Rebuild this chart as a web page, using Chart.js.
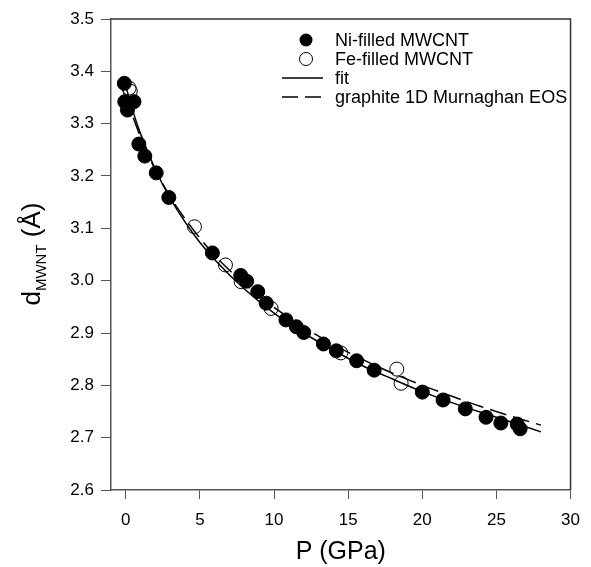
<!DOCTYPE html>
<html>
<head>
<meta charset="utf-8">
<script src="https://cdn.jsdelivr.net/npm/chart.js@4.4.1/dist/chart.umd.min.js"></script>
<style>
  html, body { margin: 0; padding: 0; background: #fff; }
  #wrap { width: 591px; height: 567px; position: relative; }
</style>
</head>
<body>
<div id="wrap"><canvas id="c" width="591" height="567"></canvas></div>
<script>
// ---- data ----
const niP = [-0.1, -0.07, 0.55, 0.11, 0.88, 1.28, 2.05, 2.9, 5.84, 7.75, 8.15, 8.9, 9.47, 10.8, 11.5, 12.0, 13.33, 14.2, 15.57, 16.75, 20.0, 21.4, 22.9, 24.3, 25.3, 26.4, 26.6];
const niD = [3.377, 3.342, 3.342, 3.326, 3.261, 3.238, 3.206, 3.159, 3.053, 3.010, 2.999, 2.979, 2.957, 2.925, 2.912, 2.901, 2.879, 2.866, 2.847, 2.829, 2.787, 2.772, 2.755, 2.739, 2.728, 2.726, 2.717];
const feP = [0.22, 0.3, 4.63, 6.72, 7.78, 9.8, 14.5, 18.28, 18.57];
const feD = [3.368, 3.362, 3.103, 3.030, 2.998, 2.947, 2.862, 2.831, 2.804];
const fitP = [0, 0.5, 1, 2, 3, 4, 5, 6, 8, 10, 12, 14, 16, 18, 20, 22, 24, 26, 28];
const fitD = [3.372, 3.322, 3.280, 3.212, 3.157, 3.112, 3.073, 3.040, 2.984, 2.938, 2.900, 2.867, 2.837, 2.812, 2.788, 2.767, 2.748, 2.730, 2.711];
const eosP = [0, 0.5, 1, 2, 3, 4, 5, 6, 8, 10, 12, 14, 16, 18, 20, 22, 24, 26, 28];
const eosD = [3.355, 3.312, 3.274, 3.211, 3.160, 3.118, 3.081, 3.048, 2.994, 2.949, 2.911, 2.878, 2.849, 2.823, 2.800, 2.779, 2.759, 2.741, 2.724];
const xTicks = [0, 5, 10, 15, 20, 25, 30];
const yTicks = [2.6, 2.7, 2.8, 2.9, 3.0, 3.1, 3.2, 3.3, 3.4, 3.5];
const labels = ['Ni-filled MWCNT', 'Fe-filled MWCNT', 'fit', 'graphite 1D Murnaghan EOS'];
const xTitle = 'P (GPa)';
const yTitleMain = 'd', yTitleSub = 'MWNT', yTitleUnit = ' (Å)';

const pts = (xs, ys) => xs.map((x, i) => ({x: x, y: ys[i]}));
const FONT = '"Liberation Sans", Arial, Helvetica, sans-serif';
const AXIS = '#555';

const framePlugin = {
  id: 'frame',
  afterDraw(chart) {
    const {ctx, chartArea: a} = chart;
    ctx.save();
    ctx.strokeStyle = '#333';
    ctx.lineWidth = 1.5;
    ctx.beginPath();
    ctx.moveTo(a.left, a.top);
    ctx.lineTo(a.right, a.top);
    ctx.lineTo(a.right, a.bottom);
    ctx.stroke();
    ctx.restore();

    // y title with subscript
    ctx.save();
    ctx.fillStyle = '#000';
    ctx.textBaseline = 'alphabetic';
    const big = '26px ' + FONT, small = '15px ' + FONT;
    ctx.font = big; const w1 = ctx.measureText(yTitleMain).width;
    const w3 = ctx.measureText(yTitleUnit).width;
    ctx.font = small; const w2 = ctx.measureText(yTitleSub).width;
    const total = w1 + w2 + w3;
    ctx.translate(40, 254);
    ctx.rotate(-Math.PI / 2);
    let x = -total / 2;
    ctx.font = big; ctx.fillText(yTitleMain, x, 0); x += w1;
    ctx.font = small; ctx.fillText(yTitleSub, x, 6); x += w2;
    ctx.font = big; ctx.fillText(yTitleUnit, x, 0);
    ctx.restore();

    // legend
    ctx.save();
    ctx.font = '18px ' + FONT;
    ctx.fillStyle = '#000';
    ctx.textBaseline = 'middle';
    const tx = 335, ys = [40, 59, 78, 97];
    const ds = chart.data.datasets;
    ctx.beginPath(); ctx.arc(306, ys[0], 6.5, 0, Math.PI * 2); ctx.fillStyle = '#000'; ctx.fill();
    ctx.beginPath(); ctx.arc(306, ys[1], 6.5, 0, Math.PI * 2); ctx.lineWidth = 1; ctx.strokeStyle = '#000'; ctx.stroke();
    ctx.lineWidth = 1.5;
    ctx.beginPath(); ctx.moveTo(282, ys[2]); ctx.lineTo(323, ys[2]); ctx.stroke();
    ctx.setLineDash([16, 7]);
    ctx.beginPath(); ctx.moveTo(282, ys[3]); ctx.lineTo(323, ys[3]); ctx.stroke();
    ctx.setLineDash([]);
    ctx.fillStyle = '#000';
    for (let i = 0; i < 4; i++) ctx.fillText(ds[i].label, tx, ys[i] + 1);
    ctx.restore();
  }
};

new Chart(document.getElementById('c'), {
  type: 'scatter',
  data: {
    datasets: [
      { label: labels[0], data: pts(niP, niD), pointRadius: 7, pointBackgroundColor: '#000', pointBorderColor: '#000', pointBorderWidth: 1, showLine: false, order: 1 },
      { label: labels[1], data: pts(feP, feD), pointRadius: 7, pointBackgroundColor: 'rgba(0,0,0,0)', pointBorderColor: '#000', pointBorderWidth: 1, showLine: false, order: 0 },
      { label: labels[2], data: pts(fitP, fitD), showLine: true, pointRadius: 0, borderColor: '#000', borderWidth: 1.5, cubicInterpolationMode: 'monotone', order: 3 },
      { label: labels[3], data: pts(eosP, eosD), showLine: true, pointRadius: 0, borderColor: '#000', borderWidth: 1.5, borderDash: [17, 7], cubicInterpolationMode: 'monotone', order: 2 }
    ]
  },
  options: {
    responsive: false,
    animation: false,
    layout: { padding: { top: 19, right: 12, left: 0, bottom: 0 } },
    plugins: { legend: { display: false }, tooltip: { enabled: false } },
    scales: {
      x: {
        type: 'linear', min: -1, max: 30,
        afterBuildTicks: s => { s.ticks = xTicks.map(v => ({value: v})); },
        afterFit: s => { s.height = 77; },
        grid: { drawOnChartArea: false, drawTicks: true, tickLength: 9, color: AXIS, lineWidth: 1 },
        border: { display: true, color: AXIS, width: 1.5 },
        ticks: { color: '#000', font: { family: FONT, size: 17 }, padding: 11, maxRotation: 0, callback: v => String(v) },
        title: { display: true, text: xTitle, color: '#000', font: { family: FONT, size: 25, lineHeight: 1 }, padding: { top: 0, bottom: 2 } }
      },
      y: {
        type: 'linear', min: 2.6, max: 3.5,
        afterBuildTicks: s => { s.ticks = yTicks.map(v => ({value: v})); },
        afterFit: s => { s.width = 111; },
        grid: { drawOnChartArea: false, drawTicks: true, tickLength: 10, color: AXIS, lineWidth: 1 },
        border: { display: true, color: AXIS, width: 1.5 },
        ticks: { color: '#000', font: { family: FONT, size: 17 }, padding: 7, callback: v => Number(v).toFixed(1) },
        title: { display: false }
      }
    }
  },
  plugins: [framePlugin]
});
</script>
</body>
</html>
